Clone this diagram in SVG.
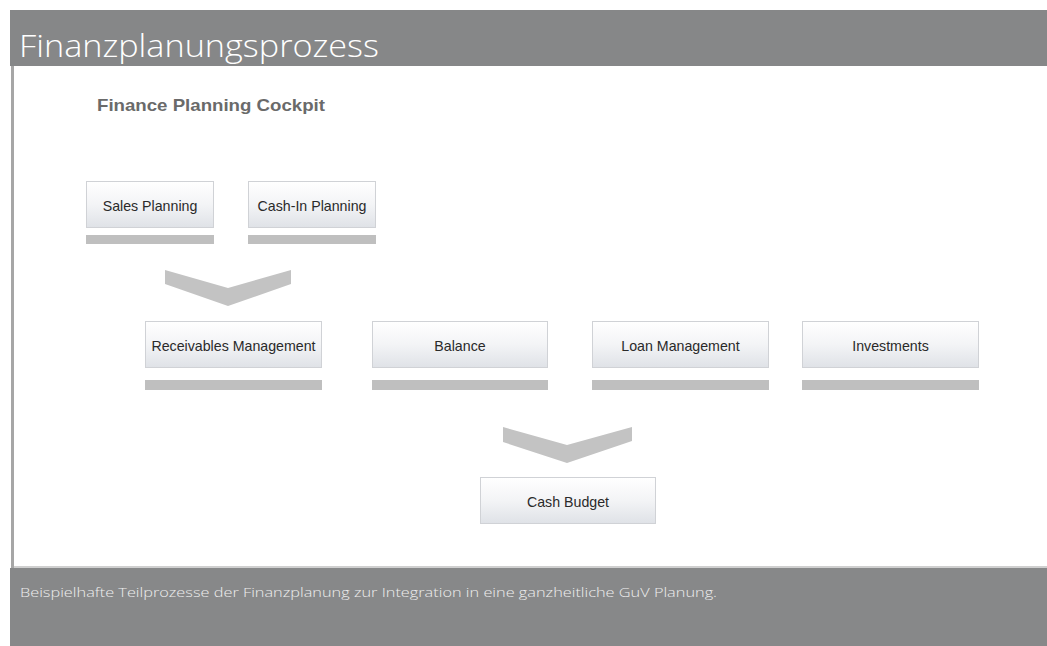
<svg xmlns="http://www.w3.org/2000/svg" width="1047" height="646" viewBox="0 0 1047 646">
<defs>
<linearGradient id="boxg" x1="0" y1="0" x2="0" y2="1">
<stop offset="0" stop-color="#ffffff"/>
<stop offset="0.5" stop-color="#f3f4f6"/>
<stop offset="1" stop-color="#dfe2e7"/>
</linearGradient>
<style>
.box{fill:url(#boxg);stroke:#d0d2d6;stroke-width:1}
.bar{fill:#bfbfbf}
.lbl{font-family:"Liberation Sans",Arial,sans-serif;font-size:14.2px;fill:#2a2a2a;text-anchor:middle}
.chev{fill:#c3c3c3}
</style>
</defs>
<rect x="0" y="0" width="1047" height="646" fill="#ffffff"/>
<g id="header">
<rect x="10" y="10" width="1037" height="56" fill="#868788"/>
<text x="19" y="57" font-family="'Open Sans',sans-serif" font-weight="300" font-size="31" fill="#ffffff" textLength="360" lengthAdjust="spacingAndGlyphs">Finanzplanungsprozess</text>
</g>
<rect x="11" y="66" width="3" height="502" fill="#a6a6a6"/>
<rect x="14" y="566" width="1033" height="2" fill="#cfcfcf"/>
<g id="footer">
<rect x="10" y="568" width="1037" height="78" fill="#878889"/>
<text x="20" y="597" font-family="'Open Sans',sans-serif" font-weight="300" font-size="12.5" fill="#eeeeee" textLength="697" lengthAdjust="spacingAndGlyphs">Beispielhafte Teilprozesse der Finanzplanung zur Integration in eine ganzheitliche GuV Planung.</text>
</g>
<text id="cockpit-title" x="97" y="111" font-family="'Liberation Sans',Arial,sans-serif" font-weight="bold" font-size="16.5" fill="#6a6a6a" textLength="228" lengthAdjust="spacingAndGlyphs">Finance Planning Cockpit</text>
<g id="connectors">
<polygon class="chev" points="165,270 228,288 291,270 291,284 228,306 165,284"/>
<polygon class="chev" points="503,427 567,445 632,427 632,441 567,463 503,442"/>
</g>
<g id="sales-planning">
<rect class="box" x="86.5" y="181.5" width="127" height="46"/>
<rect class="bar" x="86" y="235" width="128" height="9"/>
<text class="lbl" x="150" y="210.5">Sales Planning</text>
</g>
<g id="cash-in-planning">
<rect class="box" x="248.5" y="181.5" width="127" height="46"/>
<rect class="bar" x="248" y="235" width="128" height="9"/>
<text class="lbl" x="312" y="210.5">Cash-In Planning</text>
</g>
<g id="receivables-management">
<rect class="box" x="145.5" y="321.5" width="176" height="46"/>
<rect class="bar" x="145" y="380" width="177" height="10"/>
<text class="lbl" x="233.5" y="350.5">Receivables Management</text>
</g>
<g id="balance">
<rect class="box" x="372.5" y="321.5" width="175" height="46"/>
<rect class="bar" x="372" y="380" width="176" height="10"/>
<text class="lbl" x="460" y="350.5">Balance</text>
</g>
<g id="loan-management">
<rect class="box" x="592.5" y="321.5" width="176" height="46"/>
<rect class="bar" x="592" y="380" width="177" height="10"/>
<text class="lbl" x="680.5" y="350.5">Loan Management</text>
</g>
<g id="investments">
<rect class="box" x="802.5" y="321.5" width="176" height="46"/>
<rect class="bar" x="802" y="380" width="177" height="10"/>
<text class="lbl" x="890.5" y="350.5">Investments</text>
</g>
<g id="cash-budget">
<rect class="box" x="480.5" y="477.5" width="175" height="46"/>
<text class="lbl" x="568" y="506.5">Cash Budget</text>
</g>
</svg>
